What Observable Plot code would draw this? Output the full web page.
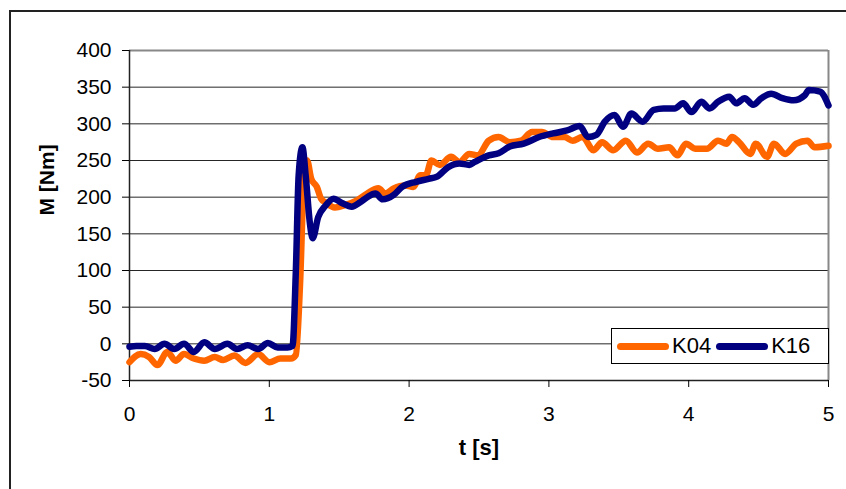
<!DOCTYPE html>
<html>
<head>
<meta charset="utf-8">
<script src="https://cdn.jsdelivr.net/npm/d3@7"></script>
<script src="https://cdn.jsdelivr.net/npm/@observablehq/plot@0.6"></script>
<style>
  html, body { margin: 0; padding: 0; background: #fff; }
  #wrap { position: relative; width: 846px; height: 489px; overflow: hidden; font-family: "Liberation Sans", Arial, sans-serif; }
  #border { position: absolute; left: 9px; top: 10px; width: 900px; height: 600px; border-left: 2px solid #222; border-top: 2px solid #222; }
  #chart { position: absolute; left: 0; top: 0; }
  #legend { position: absolute; left: 611px; top: 328px; width: 218px; height: 36px; box-sizing: border-box;
            border: 1px solid #000; background: #fff; display: flex; align-items: center; font-size: 22px; color: #000; }
  .sw { width: 52px; height: 7px; border-radius: 4px; margin-left: 5px; margin-right: 3px; }
</style>
</head>
<body>
<div id="wrap">
  <div id="border"></div>
  <div id="chart"></div>
  <div id="legend"></div>
</div>
<script>
// Torque M [Nm] over time t [s] for two couplings
const seriesNames = ["K04", "K16"];
const seriesColors = ["#ff6600", "#000080"];

const tK04 = [0, 0.08, 0.14, 0.20, 0.27, 0.33, 0.39, 0.46, 0.535, 0.61,
  0.67, 0.75, 0.83, 0.92, 1.0, 1.08, 1.155, 1.19, 1.22, 1.25,
  1.27, 1.30, 1.34, 1.37, 1.40, 1.47, 1.54, 1.62, 1.70, 1.78,
  1.83, 1.89, 1.97, 2.03, 2.08, 2.12, 2.16, 2.22, 2.30, 2.36,
  2.43, 2.49, 2.57, 2.64, 2.72, 2.80, 2.88, 2.95, 3.03, 3.11,
  3.17, 3.24, 3.32, 3.38, 3.46, 3.55, 3.63, 3.71, 3.78, 3.86,
  3.92, 3.98, 4.05, 4.13, 4.21, 4.27, 4.31, 4.36, 4.44, 4.48,
  4.56, 4.61, 4.69, 4.77, 4.85, 4.90, 5.0];
const mK04 = [-25, -14, -18, -29, -11, -23, -14, -20, -23, -18,
  -22, -16, -26, -14, -25, -20, -20, -15, 82, 235,
  250, 225, 214, 198, 193, 186, 189, 195, 205, 212,
  205, 212, 216, 214, 230, 230, 250, 244, 255, 248,
  259, 257, 277, 282, 275, 277, 289, 289, 282, 282,
  277, 282, 264, 275, 264, 277, 261, 273, 266, 268,
  257, 273, 266, 266, 277, 273, 282, 275, 259, 273,
  255, 273, 259, 273, 277, 268, 270];

const tK16 = [0, 0.05, 0.11, 0.18, 0.25, 0.32, 0.39, 0.46, 0.535, 0.61,
  0.70, 0.77, 0.845, 0.92, 0.99, 1.06, 1.13, 1.166, 1.19, 1.21,
  1.237, 1.26, 1.29, 1.31, 1.35, 1.40, 1.46, 1.52, 1.59, 1.65,
  1.70, 1.76, 1.81, 1.89, 1.95, 2.05, 2.14, 2.20, 2.28, 2.36,
  2.43, 2.47, 2.57, 2.64, 2.72, 2.82, 2.93, 3.03, 3.13, 3.22,
  3.28, 3.34, 3.40, 3.47, 3.53, 3.59, 3.67, 3.75, 3.82, 3.90,
  3.96, 4.02, 4.09, 4.15, 4.21, 4.29, 4.34, 4.40, 4.46, 4.52,
  4.59, 4.67, 4.75, 4.83, 4.86, 4.94, 5.0];
const mK16 = [-4, -3, -3, -7, 0, -7, 0, -11, 2, -7,
  0, -7, -2, -7, 1, -5, -5, -3, 100, 230,
  268, 230, 165, 144, 173, 188, 198, 192, 187, 193,
  200, 205, 197, 203, 214, 221, 225, 228, 241, 246,
  244, 248, 257, 260, 269, 273, 282, 287, 291, 297,
  282, 285, 303, 312, 296, 314, 303, 319, 321, 321,
  328, 316, 330, 321, 330, 337, 328, 335, 326, 335,
  341, 335, 332, 339, 346, 344, 325];

const xTicks = [0, 1, 2, 3, 4, 5];
const yTicks = [-50, 0, 50, 100, 150, 200, 250, 300, 350, 400];
const xTitle = "t [s]";
const yTitle = "M [Nm]";

const rowsK04 = tK04.map((t, i) => ({t, m: mK04[i]}));
const rowsK16 = tK16.map((t, i) => ({t, m: mK16[i]}));

const chart = Plot.plot({
  width: 846,
  height: 489,
  marginTop: 50,
  marginRight: 18,
  marginBottom: 109,
  marginLeft: 129,
  x: {domain: [0, 5]},
  y: {domain: [-50, 400]},
  style: {fontFamily: "'Liberation Sans', Arial, sans-serif", fontSize: "21px", background: "transparent", color: "#000"},
  marks: [
    Plot.gridY(yTicks.slice(1, -1), {stroke: "#000", strokeOpacity: 0.85, strokeWidth: 1}),
    Plot.ruleY([400], {stroke: "#888", strokeWidth: 2}),
    Plot.ruleX([5], {stroke: "#888", strokeWidth: 2}),
    Plot.ruleY([-50], {stroke: "#222", strokeWidth: 1.5}),
    Plot.ruleX([0], {stroke: "#222", strokeWidth: 1.5}),
    Plot.axisY(yTicks, {tickSize: 7, tickPadding: 11, fontSize: 21, label: null, tickFormat: d => String(d)}),
    Plot.axisX(xTicks, {tickSize: 7, tickPadding: 19, fontSize: 21, label: null, tickFormat: d => String(d)}),
    Plot.line(rowsK04, {x: "t", y: "m", stroke: seriesColors[0], strokeWidth: 6.5, curve: "monotone-x", strokeLinejoin: "round", strokeLinecap: "round"}),
    Plot.line(rowsK16, {x: "t", y: "m", stroke: seriesColors[1], strokeWidth: 6.5, curve: "monotone-x", strokeLinejoin: "round", strokeLinecap: "round"}),
    Plot.text([yTitle], {text: d => d, frameAnchor: "left", dx: -82, rotate: -90, fontWeight: "bold", fontSize: 21}),
    Plot.text([xTitle], {text: d => d, frameAnchor: "bottom", dy: 74, fontWeight: "bold", fontSize: 22})
  ]
});
document.getElementById("chart").appendChild(chart);

const legend = document.getElementById("legend");
seriesNames.forEach((name, i) => {
  const sw = document.createElement("span");
  sw.className = "sw";
  sw.style.background = seriesColors[i];
  legend.appendChild(sw);
  const label = document.createElement("span");
  label.textContent = name;
  legend.appendChild(label);
});
</script>
</body>
</html>
